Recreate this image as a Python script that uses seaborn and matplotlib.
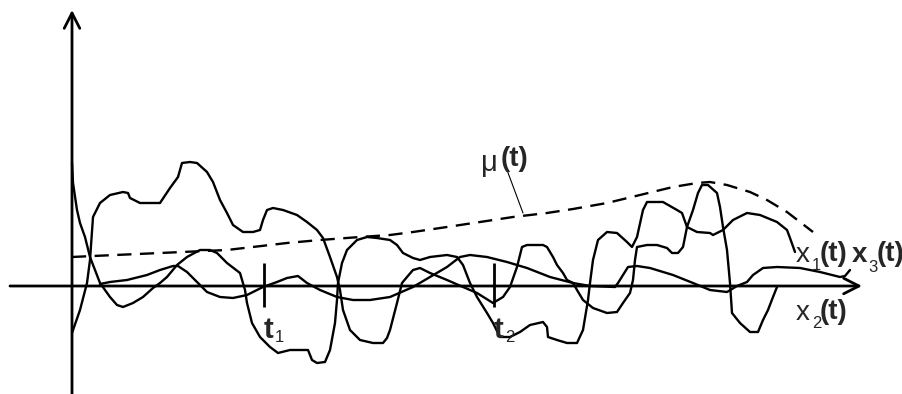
import matplotlib
matplotlib.use('Agg')
import matplotlib.pyplot as plt
import seaborn as sns

# sample paths (t from the origin, value above the t axis)
x1_t = [0, 1, 5, 8, 13, 18, 23, 28, 33, 38, 45, 51, 61, 71, 81, 88, 95, 105, 115, 128,
        138, 145, 155, 168, 173, 175, 180, 188, 198, 206, 218, 236, 240, 245, 253, 258,
        263, 265, 266, 270, 275, 285, 295, 305, 318, 325, 331, 341, 348, 358, 375, 385,
        391, 398, 405, 415, 421, 428, 438, 448, 458, 471, 475, 476, 485, 495, 505, 511,
        516, 518, 521, 526, 535, 545, 555, 560, 565, 571, 575, 591, 605, 610, 615, 625,
        638, 641, 651, 661, 675, 688, 705, 715, 718, 723]
x1_v = [123, 103, 76, 63, 49, 29, 16, 3, -4, -11, -19, -21, -17, -11, -2, 3, 9, 21, 29, 36,
        36, 33, 23, 13, -4, -17, -37, -51, -61, -67, -64, -64, -74, -77, -76, -64,
        -37, -14, 3, 23, 36, 46, 49, 48, 46, 41, 33, 28, 26, 29, 31, 29,
        21, 3, -11, -27, -37, -51, -51, -46, -39, -36, -41, -51, -54, -57, -57, -44,
        -14, 3, 26, 46, 54, 53, 44, 39, 49, 76, 84, 84, 76, 73, 59, 54,
        53, 51, 56, 66, 73, 71, 64, 56, 48, 34]

x2_t = [0, 8, 15, 18, 21, 28, 38, 51, 56, 58, 68, 88, 98, 106, 110, 118, 125, 135, 141,
        148, 155, 161, 171, 181, 188, 191, 195, 201, 211, 225, 235, 245, 251, 258, 265,
        268, 271, 278, 288, 301, 311, 315, 318, 325, 330, 335, 341, 348, 358, 375, 391,
        405, 421, 431, 438, 445, 450, 455, 471, 475, 481, 485, 491, 495, 501, 505, 511,
        521, 535, 545, 551, 558, 561, 563, 565, 575, 585, 595, 600, 606, 611, 615, 621,
        626, 630, 636, 645, 648, 651, 655, 658, 660, 668, 678, 686, 691, 696, 701, 705]
x2_v = [-47, -24, 3, 26, 69, 83, 91, 94, 93, 88, 83, 83, 98, 109, 123, 124, 123, 114, 104,
        86, 73, 61, 54, 54, 56, 66, 76, 78, 76, 71, 64, 56, 48, 29, 9,
        -4, -24, -44, -54, -57, -57, -52, -44, -17, 3, 9, 16, 18, 13, 6, -1,
        -7, -17, -11, -1, 19, 39, 41, 41, 39, 29, 21, 13, 6, 3, -4, -14,
        -22, -27, -26, -17, -7, 6, 26, 39, 41, 41, 38, 33, 33, 39, 59, 76,
        93, 101, 101, 93, 79, 59, 36, 3, -27, -37, -46, -46, -34, -24, -11, -1]

x3_t = [28, 38, 55, 75, 88, 101, 106, 115, 125, 135, 148, 161, 175, 191, 205, 215, 226,
        235, 248, 265, 281, 298, 318, 341, 358, 375, 388, 398, 415, 435, 455, 478, 501,
        518, 543, 546, 551, 556, 565, 578, 601, 621, 638, 655, 665, 675, 681, 691, 705,
        728, 748, 768, 773, 778]
x3_v = [2, 4, 6, 11, 16, 20, 20, 14, 4, -6, -11, -12, -9, -1, 4, 8, 10,
        3, -4, -11, -14, -14, -11, -1, 9, 19, 29, 31, 29, 24, 18, 9, 3,
        0, -1, 3, 11, 19, 20, 18, 11, 3, -4, -6, 0, 4, 11, 18, 19,
        18, 14, 9, 10, 16]

# mean function mu(t)
mu_t = [0, 21, 88, 155, 215, 248, 288, 318, 341, 375, 408, 441, 475, 501, 535, 568,
        601, 625, 638, 655, 678, 695, 715, 728, 741]
mu_v = [29, 30, 33, 36, 43, 46, 49, 51, 54, 59, 64, 69, 73, 77, 83, 91,
        99, 103, 104, 101, 94, 86, 74, 64, 54]

tick_times = [192, 422]
tick_labels = ['1', '2']

sns.set_style('white')
plt.rcParams['font.family'] = ['Liberation Sans', 'DejaVu Sans']

fig = plt.figure(figsize=(9.03, 3.94), dpi=100)
ax = fig.add_axes([0, 0, 1, 1])
ax.set_xlim(-72, 831)
ax.set_ylim(-108, 286)
ax.axis('off')

# axes with open arrow heads
arrow = dict(arrowstyle='->,head_length=0.55,head_width=0.28', lw=2.0, color='black',
             shrinkA=0, shrinkB=0, mutation_scale=20)
ax.annotate('', xy=(790, 0), xytext=(-62, 0), arrowprops=arrow)
ax.annotate('', xy=(0, 276), xytext=(0, -108), arrowprops=arrow)

for t, v in [(x1_t, x1_v), (x2_t, x2_v), (x3_t, x3_v)]:
    sns.lineplot(x=t, y=v, sort=False, estimator=None, color='black', linewidth=1.7, ax=ax)

sns.lineplot(x=mu_t, y=mu_v, sort=False, estimator=None, color='black', linewidth=1.7, ax=ax)
ax.lines[-1].set_dashes((6.0, 3.6))

# time marks t1, t2
ax.vlines(tick_times, -21, 23, color='black', lw=2.0)
for tt, lab in zip(tick_times, tick_labels):
    ax.text(tt + 0, -44, 't', fontsize=21, fontweight='bold', ha='left', va='center')
    ax.text(tt + 11, -51, lab, fontsize=12, ha='left', va='center')

# mu(t) label with leader line
ax.plot([435, 451], [116, 73], color='black', lw=0.8)
ax.text(409, 123, '\u03bc', fontsize=21, ha='left', va='center')
ax.text(429, 127, '(t)', fontsize=20, fontweight='bold', ha='left', va='center')

# path labels
ax.text(724, 31, 'x', fontsize=20, ha='left', va='center')
ax.text(740, 20, '1', fontsize=12, ha='left', va='center')
ax.text(748, 32, '(t)', fontsize=20, fontweight='bold', ha='left', va='center')

ax.text(724, -27, 'x', fontsize=20, ha='left', va='center')
ax.text(740, -38, '2', fontsize=12, ha='left', va='center')
ax.text(748, -26, '(t)', fontsize=20, fontweight='bold', ha='left', va='center')

ax.text(780, 31, 'x', fontsize=20, fontweight='bold', ha='left', va='center')
ax.text(796, 18, '3', fontsize=12, ha='left', va='center')
ax.text(805, 32, '(t)', fontsize=20, fontweight='bold', ha='left', va='center')

fig.savefig('out.png', dpi=100)
